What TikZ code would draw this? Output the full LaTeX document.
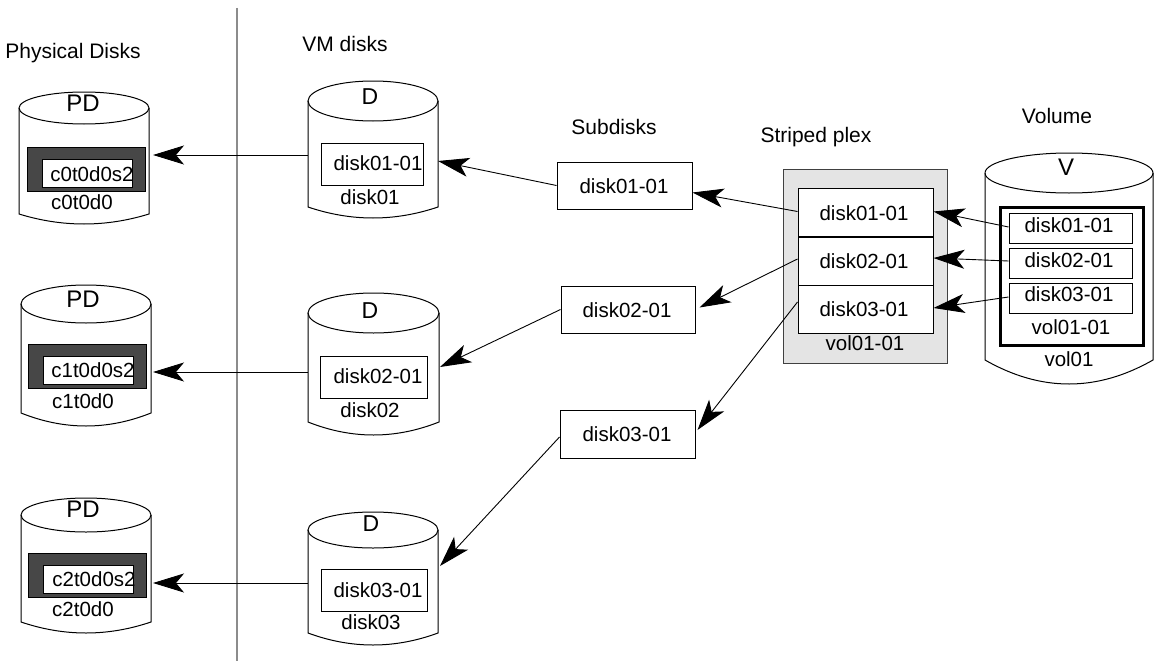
\documentclass[tikz,border=0pt]{standalone}
\usepackage{fontspec}
\setmainfont{Liberation Sans}
\usetikzlibrary{arrows.meta}
\definecolor{darkfill}{HTML}{474747}
\definecolor{plexfill}{HTML}{E4E4E4}
\definecolor{sepgray}{HTML}{8C8C8C}
\tikzset{
  arr/.style={line width=0.9pt, -{Stealth[length=31pt,width=19pt,inset=8pt]}},
  box/.style={draw=black, line width=1pt, fill=white, inner sep=0pt},
  darkbox/.style={draw=black, line width=1pt, fill=darkfill, inner sep=0pt, minimum width=118pt, minimum height=44pt},
  slicebox/.style={draw=black, line width=1pt, fill=white, inner sep=0pt, minimum width=90pt, minimum height=28pt},
  txt/.style={inner sep=0pt, text height=0.72em, text depth=0pt, font=\fontsize{20.5}{24}\selectfont},
  ttl/.style={inner sep=0pt, text height=0.72em, text depth=0pt, font=\fontsize{21}{25}\selectfont},
  bigl/.style={inner sep=0pt, text height=0.72em, text depth=0pt, font=\fontsize{24}{28}\selectfont},
  midl/.style={inner sep=0pt, text height=0.72em, text depth=0pt, font=\fontsize{23}{27}\selectfont},
  pics/cyl/.style args={#1/#2/#3/#4}{code={
    \draw[line width=1pt] (-#1,0) -- (-#1,#3) .. controls (-#1/3,#3+4*#4/3) and (#1/3,#3+4*#4/3) .. (#1,#3) -- (#1,0);
    \draw[line width=1pt] (0,0) ellipse [x radius=#1pt, y radius=#2pt];
  }}
}
\begin{document}
\begin{tikzpicture}[x=1pt,y=-1pt]
\useasboundingbox (0,0) rectangle (1156,661);

% separator
\draw[sepgray, line width=1.2pt] (237,8) -- (237,661);

% titles
\node[ttl] (tpd) at (73,55) {Physical Disks};
\node[ttl] (tvm) at (345,48) {VM disks};
\node[ttl] (tsd) at (614,131) {Subdisks};
\node[ttl] (tpx) at (816,139) {Striped plex};
\node[ttl] (tvo) at (1057,120) {Volume};

% ---------- physical disks ----------
\pic at (84,108) {cyl=65/16/106/10};
\node[bigl] (pd1t) at (83,108) {PD};
\node[darkbox] (pd1d) at (86,169) {};
\node[slicebox] (pd1w) at (87,173) {};
\node[txt] (pd1s) at (92,178) {c0t0d0s2};
\node[txt] (pd1l) at (82,206) {c0t0d0};
\coordinate (pd1in) at (153,155);

\pic at (86,304) {cyl=65/19/109/13};
\node[bigl] (pd2t) at (83,304) {PD};
\node[darkbox] (pd2d) at (87,366) {};
\node[slicebox] (pd2w) at (88,370) {};
\node[txt] (pd2s) at (93,374) {c1t0d0s2};
\node[txt] (pd2l) at (83,405) {c1t0d0};
\coordinate (pd2in) at (153,372);

\pic at (86,515) {cyl=65/17/107/11};
\node[bigl] (pd3t) at (83,514) {PD};
\node[darkbox] (pd3d) at (87,575) {};
\node[slicebox] (pd3w) at (88,579) {};
\node[txt] (pd3s) at (94,583) {c2t0d0s2};
\node[txt] (pd3l) at (83,613) {c2t0d0};
\coordinate (pd3in) at (153,583);

% ---------- VM disks ----------
\pic at (373,101) {cyl=65/20/106/11};
\node[midl] (vm1t) at (370,101) {D};
\node[box, minimum width=102pt, minimum height=42pt] (vm1r) at (372,164) {};
\node[txt] (vm1s) at (378,167) {disk01-01};
\node[txt] (vm1l) at (370,201) {disk01};
\coordinate (vm1w) at (308,155);
\coordinate (vm1in) at (438,161);

\pic at (373.5,313) {cyl=65.5/20/109/13};
\node[midl] (vm2t) at (370,315) {D};
\node[box, minimum width=107pt, minimum height=42pt] (vm2r) at (373.5,377) {};
\node[txt] (vm2s) at (378,380) {disk02-01};
\node[txt] (vm2l) at (370,414) {disk02};
\coordinate (vm2w) at (308,372);
\coordinate (vm2in) at (440,367);

\pic at (373,530) {cyl=65/18/103/12};
\node[midl] (vm3t) at (371,528) {D};
\node[box, minimum width=106pt, minimum height=42pt] (vm3r) at (374,590) {};
\node[txt] (vm3s) at (378,594) {disk03-01};
\node[txt] (vm3l) at (371,626) {disk03};
\coordinate (vm3w) at (308,583);
\coordinate (vm3in) at (440,566);

% ---------- subdisks ----------
\node[box, minimum width=135pt, minimum height=47pt] (sd1) at (624.5,185.5) {};
\node[txt] (sd1t) at (624,190) {disk01-01};
\node[box, minimum width=134pt, minimum height=47pt] (sd2) at (628,309.5) {};
\node[txt] (sd2t) at (627,314) {disk02-01};
\node[box, minimum width=135pt, minimum height=48pt] (sd3) at (627.5,434) {};
\node[txt] (sd3t) at (627,438) {disk03-01};

% ---------- striped plex ----------
\node[draw=black!75, line width=1pt, fill=plexfill, inner sep=0pt, minimum width=164pt, minimum height=194pt] (plex) at (865,266) {};
\node[box, minimum width=135pt, minimum height=48.5pt] (c1) at (865.5,212.5) {};
\node[box, minimum width=135pt, minimum height=48pt] (c2) at (865.5,261) {};
\node[box, minimum width=135pt, minimum height=48pt] (c3) at (865.5,309) {};
\node[txt] (c1t) at (864,217) {disk01-01};
\node[txt] (c2t) at (864,265) {disk02-01};
\node[txt] (c3t) at (864,313) {disk03-01};
\node[txt] (plexl) at (865,347) {vol01-01};

% ---------- volume ----------
\pic at (1069,173) {cyl=84/20/187/24};
\node[bigl] (vot) at (1066,172) {V};
\node[draw=black, line width=3pt, inner sep=0pt, minimum width=143pt, minimum height=138pt] (vpl) at (1071.5,276) {};
\node[box, minimum width=123pt, minimum height=30pt] (vb1) at (1070.5,228) {};
\node[box, minimum width=123pt, minimum height=30pt] (vb2) at (1070.5,263) {};
\node[box, minimum width=123pt, minimum height=30pt] (vb3) at (1070.5,298) {};
\node[txt] (vb1t) at (1069,229) {disk01-01};
\node[txt] (vb2t) at (1069,264) {disk02-01};
\node[txt] (vb3t) at (1069,298) {disk03-01};
\node[txt] (vpll) at (1071,331) {vol01-01};
\node[txt] (vol) at (1069,363) {vol01};

% ---------- connectors ----------
\draw[arr] (vm1w) -- (pd1in);
\draw[arr] (vm2w) -- (pd2in);
\draw[arr] (vm3w) -- (pd3in);

\draw[arr] (sd1.west) -- (vm1in);
\draw[arr] (sd2.west) -- (vm2in);
\draw[arr] ([yshift=-3pt]sd3.west) -- (vm3in);

\draw[arr] ([yshift=1pt]c1.west) -- ([yshift=-7pt]sd1.east);
\draw[arr] ([yshift=2pt]c2.west) -- ([yshift=2pt,xshift=4pt]sd2.east);
\draw[arr] ([yshift=7pt]c3.west) -- ([yshift=4pt,xshift=2pt]sd3.east);

\draw[arr] ([yshift=1pt]vb1.west) -- ([yshift=1pt]c1.east);
\draw[arr] ([yshift=2pt]vb2.west) -- ([yshift=3pt]c2.east);
\draw[arr] ([yshift=1pt]vb3.west) -- ([yshift=1pt]c3.east);
\end{tikzpicture}
\end{document}
